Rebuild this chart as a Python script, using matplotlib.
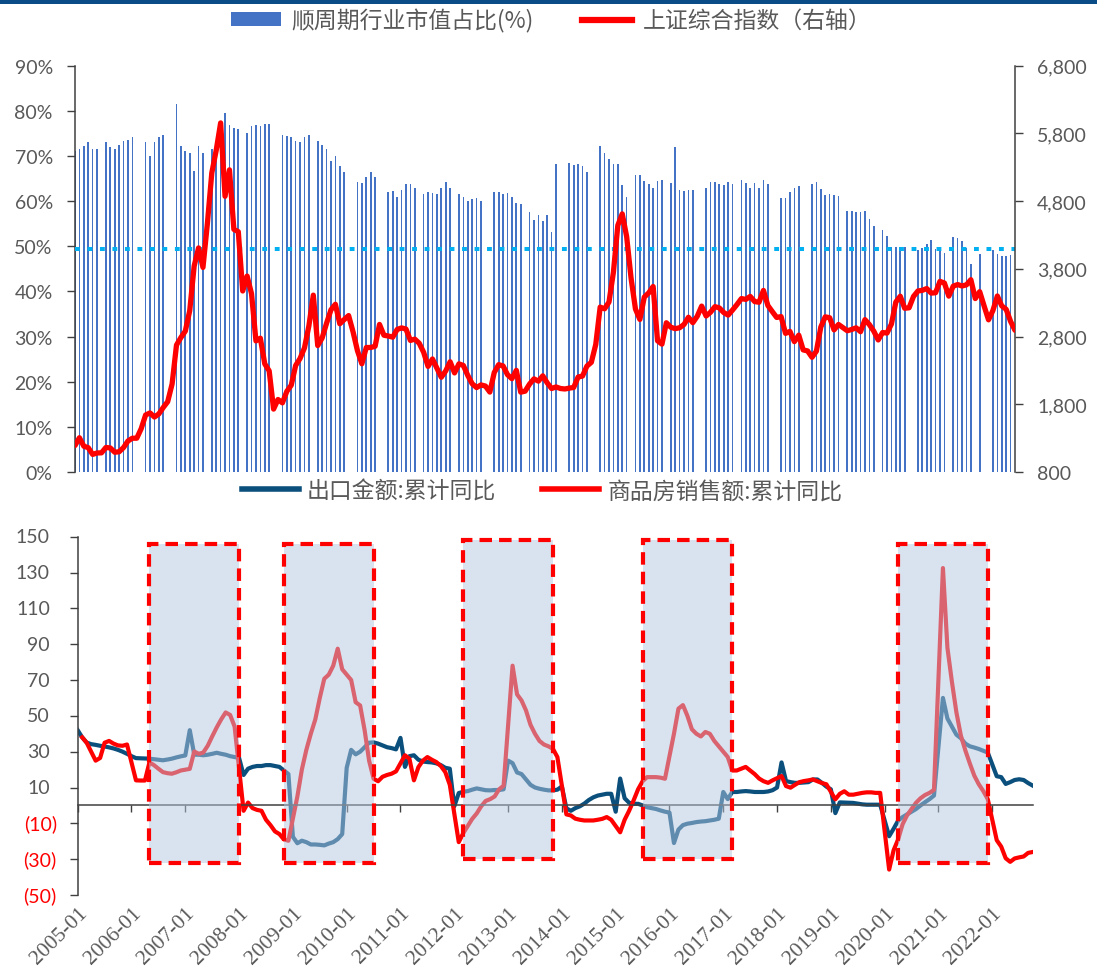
import numpy as np
import pandas as pd
import matplotlib
matplotlib.use("Agg")
import matplotlib.pyplot as plt
from matplotlib.patches import Rectangle, Patch
from matplotlib.lines import Line2D

plt.rcParams['font.family'] = ['Lato', 'Noto Sans CJK SC', 'DejaVu Sans']

# ---------------- data ----------------
months = pd.period_range("2005-01", "2022-10", freq="M").strftime("%Y-%m").tolist()

# 顺周期行业市值占比 (%), None = no observation
cyclical_share = [
    71.2, 71.6, 72.3, 73.1, 71.6, 71.6, None, 73.1, 72.1, 71.6, 72.5, 73.4,
    73.6, 74.1, None, None, 73.1, 70.1, 73.1, 74.1, 74.7, None, None, 81.5,
    72.3, 71.0, 70.6, 66.6, 72.3, 70.6, None, 71.5, 72.5, 74.0, 79.5, 76.8,
    76.3, 75.9, None, 75.2, 76.6, 76.9, 76.6, 77.1, 77.1, None, None, 74.7,
    74.4, 74.1, 73.4, 73.1, 74.1, 74.7, None, 73.4, 72.5, 71.6, 68.8, 69.9,
    67.7, 66.4, None, None, 64.2, 64.0, 65.3, 66.4, 65.3, None, None, 62.1,
    62.3, 61.0, 62.5, 63.7, 63.7, 62.8, None, 61.6, 62.0, 61.7, 61.6, 62.8,
    64.2, 62.8, None, 61.6, 61.0, 60.1, 60.4, 60.6, 60.1, None, None, 62.0,
    62.0, 61.6, 61.8, 61.0, 59.6, 59.4, None, 57.5, 55.8, 57.0, 55.7, 57.0,
    53.2, 68.2, None, None, 68.5, 68.0, 68.2, 67.7, 66.4, None, None, 72.3,
    70.6, 69.3, 68.2, 68.2, 63.5, 61.0, None, 65.8, 65.8, 64.4, 63.7, 62.8,
    64.4, 64.7, None, 64.0, 72.1, 62.5, 62.3, 62.5, 62.5, None, None, 63.0,
    64.2, 64.2, 63.7, 63.5, 64.2, 63.7, None, 64.7, 64.0, 63.0, 64.0, 63.0,
    64.7, 63.7, None, None, 60.8, 60.6, 62.0, 62.8, 63.4, None, None, 63.8,
    64.2, 62.6, 61.4, 61.6, 61.4, 61.2, None, 57.8, 57.8, 57.5, 57.5, 57.8,
    56.1, 54.4, None, 53.6, 52.2, 49.9, 49.9, 49.9, 49.9, None, None, 49.1,
    49.6, 50.4, 51.3, 49.5, 49.5, 48.5, None, 52.0, 51.8, 51.1, 49.6, 46.1,
    None, 48.3, None, None, 49.2, 48.3, 47.9, 47.9, 48.1, None,
]
share_threshold = 49.4

# 上证综合指数 (monthly close)
sse_index = [
    1191, 1306, 1181, 1159, 1060, 1081, 1083, 1162, 1155, 1092, 1099, 1161,
    1258, 1299, 1299, 1440, 1642, 1672, 1612, 1658, 1753, 1838, 2099, 2675,
    2786, 2881, 3184, 3841, 4109, 3821, 4471, 5218, 5552, 5955, 4871, 5262,
    4383, 4349, 3473, 3693, 3433, 2736, 2776, 2397, 2293, 1729, 1871, 1821,
    1991, 2082, 2373, 2477, 2633, 2959, 3412, 2667, 2779, 2996, 3195, 3277,
    2989, 3051, 3110, 2871, 2592, 2398, 2638, 2639, 2656, 2979, 2820, 2808,
    2791, 2905, 2928, 2911, 2743, 2762, 2701, 2568, 2359, 2469, 2333, 2199,
    2292, 2428, 2263, 2397, 2373, 2226, 2103, 2047, 2086, 2069, 1980, 2269,
    2385, 2366, 2237, 2178, 2301, 1979, 1994, 2098, 2175, 2142, 2220, 2116,
    2033, 2056, 2033, 2026, 2039, 2048, 2202, 2217, 2364, 2420, 2683, 3235,
    3210, 3310, 3748, 4442, 4612, 4277, 3664, 3206, 3053, 3383, 3445, 3539,
    2738, 2688, 3004, 2938, 2917, 2930, 2979, 3085, 3005, 3100, 3250, 3104,
    3159, 3242, 3223, 3155, 3117, 3192, 3273, 3361, 3349, 3393, 3317, 3307,
    3481, 3259, 3169, 3082, 3095, 2847, 2876, 2725, 2821, 2603, 2588, 2494,
    2585, 2941, 3091, 3078, 2899, 2979, 2933, 2886, 2905, 2929, 2872, 3050,
    2977, 2880, 2750, 2860, 2852, 2985, 3310, 3396, 3218, 3225, 3392, 3473,
    3483, 3509, 3442, 3447, 3615, 3591, 3397, 3544, 3568, 3547, 3564, 3640,
    3361, 3463, 3252, 3047, 3186, 3399, 3253, 3202, 3024, 2893,
]

# 出口金额:累计同比 (%)
export_yoy = [
    42.0, 38.0, 35.1, 34.2, 33.8, 33.3, 32.9, 32.4, 31.8, 31.0, 30.0, 28.8,
    27.5, 26.4, 26.3, 26.2, 26.1, 25.8, 25.5, 25.2, 25.6, 26.1, 26.8, 27.4,
    27.9, 42.0, 28.3, 28.3, 28.0, 28.3, 28.8, 29.4, 28.8, 28.3, 27.5, 27.0,
    26.5, 17.0, 20.5, 21.5, 22.0, 22.0, 22.5, 22.5, 22.0, 21.5, 19.5, 17.5,
    -17.5, -21.1, -19.7, -20.5, -21.8, -21.8, -22.0, -22.3, -21.3, -20.5, -18.8, -16.0,
    21.0, 31.0, 28.5, 30.0, 32.5, 35.0, 35.2, 34.5, 33.5, 32.5, 32.0, 31.3,
    37.7, 21.5, 27.5, 28.0, 25.5, 24.5, 24.2, 24.0, 23.5, 22.5, 21.0, 20.5,
    -0.5, 6.9, 7.6, 8.0, 8.8, 9.5, 9.0, 8.5, 8.4, 8.6, 8.6, 9.0,
    25.0, 23.6, 18.4, 17.5, 14.5, 11.5, 10.0, 9.3, 8.8, 8.4, 8.4, 8.8,
    10.6, -1.6, -3.0, -1.5, -0.5, 1.0, 3.0, 4.5, 5.5, 6.0, 6.5, 6.5,
    -3.5, 15.0, 4.0, 1.5, 0.9, 0.9, 0.0, -1.0, -1.5, -2.0, -2.8, -3.5,
    -4.0, -21.0, -13.5, -11.0, -10.2, -9.8, -9.3, -9.0, -8.8, -8.4, -8.0, -7.4,
    7.5, 3.5, 7.5, 7.5, 7.8, 8.0, 7.8, 7.5, 7.5, 7.5, 7.8, 8.5,
    10.0, 24.0, 13.6, 13.0, 12.6, 12.6, 12.8, 13.0, 14.5, 14.5, 12.6, 10.5,
    9.0, -4.3, 1.7, 1.6, 1.5, 1.4, 1.0, 0.6, 0.4, 0.4, 0.4, 0.4,
    None, -17.2, -13.0, -8.5, -6.5, -5.0, -3.5, -2.0, 0.0, 1.8, 3.5, 5.5,
    None, 60.0, 48.5, 44.0, 39.5, 37.5, 34.5, 33.0, 32.3, 31.5, 30.5, 29.5,
    None, 16.3, 15.8, 12.0, 13.0, 14.2, 14.6, 14.2, 12.5, 11.1,
]

# 商品房销售额:累计同比 (%)
housing_yoy = [
    None, 38.0, 35.0, 30.0, 25.0, 26.5, 35.0, 36.0, 34.5, 33.5, 33.3, 34.0,
    None, 14.0, 13.9, 13.9, 24.0, 22.5, 20.5, 18.6, 18.0, 17.7, 18.5, 19.5,
    None, 20.4, 30.1, 28.8, 29.5, 33.3, 38.5, 43.5, 48.0, 51.9, 50.5, 44.0,
    None, -3.0, 1.6, -1.5, -2.5, -3.0, -8.0, -11.0, -14.5, -16.0, -19.0, -19.7,
    None, 5.0, 20.0, 31.0, 40.0, 48.0, 60.0, 70.7, 73.0, 78.0, 87.5, 76.0,
    None, 70.0, 57.6, 55.8, 42.0, 25.0, 14.9, 13.5, 16.0, 17.0, 17.7, 19.0,
    None, 28.0, 26.0, 14.0, 21.4, 25.0, 27.0, 25.5, 24.2, 22.0, 18.6, 11.5,
    None, -20.5, -15.5, -11.5, -7.5, -4.5, -0.5, 2.5, 3.5, 5.0, 9.0, 11.0,
    None, 78.0, 62.0, 58.6, 53.0, 45.0, 40.0, 36.0, 34.0, 33.0, 31.6, 27.0,
    None, -5.0, -5.6, -7.4, -8.0, -8.4, -8.4, -8.4, -8.0, -7.5, -6.5, -8.0,
    None, -15.0, -8.0, -3.0, 2.8, 9.0, 13.5, 15.8, 15.8, 15.8, 15.5, 14.9,
    None, 40.0, 54.0, 56.0, 50.0, 42.5, 40.0, 38.5, 41.0, 40.0, 36.0, 33.0,
    None, 27.0, 19.5, 19.5, 20.5, 21.5, 19.5, 17.5, 15.0, 13.5, 12.6, 14.0,
    None, 16.4, 10.8, 9.9, 11.5, 13.0, 13.6, 14.0, 14.5, 13.5, 12.5, 11.8,
    None, 3.4, 6.5, 7.9, 6.0, 6.0, 6.5, 7.0, 7.3, 7.3, 7.0, 7.0,
    None, -35.8, -25.0, -19.0, -10.5, -5.5, -2.0, 1.5, 4.0, 5.8, 7.0, 8.7,
    None, 132.5, 88.0, 69.0, 52.0, 39.0, 30.7, 23.4, 16.6, 11.8, 8.0, 3.5,
    None, -19.4, -23.0, -29.5, -31.5, -29.6, -29.0, -28.5, -26.5, -26.0,
]

# highlighted periods (start month, end month, low, high)
highlight_periods = [
    ("2006-05", "2008-01", -32, 146),
    ("2008-11", "2010-07", -32, 146),
    ("2012-03", "2013-11", -30, 148),
    ("2015-07", "2017-03", -30, 148),
    ("2020-04", "2021-12", -32, 146),
]

# ---------------- styling ----------------
W, H = 1097, 970
GRAY = '#595959'
AXIS = '#404040'
BAR_BLUE = '#4472C4'
NAVY = '#0B4F7C'
RED = '#FF0000'
CJK = ['Noto Sans CJK SC', 'DejaVu Sans']

fig = plt.figure(figsize=(W / 100, H / 100), dpi=100)
fig.patch.set_facecolor('white')

# header band
fig.add_artist(Rectangle((0, 1 - 5 / H), 1, 5 / H, transform=fig.transFigure,
                         color='#0A4C86', lw=0))

x = np.arange(len(months))

# ---------------- top panel ----------------
ax1 = fig.add_axes([75 / W, 1 - 473 / H, 940 / W, 406.3 / H])
share = np.array(cyclical_share, dtype=float)
ok = ~np.isnan(share)
ax1.bar(x[ok], share[ok], width=0.38, color=BAR_BLUE, linewidth=0, zorder=1)
ax1.axhline(share_threshold, color='#00B0F0', lw=2.9, ls=(0, (1.2, 1.9)), zorder=3)
ax1.set_xlim(0, len(months) - 1)
ax1.set_ylim(0, 90)
ax1.set_yticks(range(0, 91, 10))
ax1.set_yticklabels([f"{v}%" for v in range(0, 91, 10)])
for s in ('top', 'right', 'bottom'):
    ax1.spines[s].set_visible(False)
ax1.spines['left'].set_color(AXIS)
ax1.spines['left'].set_linewidth(1.1)
ax1.tick_params(axis='y', direction='out', length=6, width=1, color=AXIS,
                labelsize=14, labelcolor=GRAY, pad=10)
ax1.tick_params(axis='x', bottom=False, labelbottom=False)

ax2 = ax1.twinx()
ax2.plot(x, sse_index, color=RED, lw=3.8, solid_joinstyle='round',
         solid_capstyle='round', zorder=4)
ax2.set_ylim(800, 6800)
ax2.set_yticks(range(800, 6801, 1000))
ax2.set_yticklabels([f"{v:,}" for v in range(800, 6801, 1000)])
for s in ('top', 'left', 'bottom'):
    ax2.spines[s].set_visible(False)
ax2.spines['right'].set_color(AXIS)
ax2.spines['right'].set_linewidth(1.1)
ax2.tick_params(axis='y', direction='out', length=6, width=1, color=AXIS,
                labelsize=14, labelcolor=GRAY, pad=10)

fig.legend(handles=[Patch(facecolor=BAR_BLUE, edgecolor='none'),
                    Line2D([], [], color=RED, lw=4.5)],
           labels=['顺周期行业市值占比(%)', '上证综合指数（右轴）'],
           loc='center', bbox_to_anchor=(551 / W, 1 - 21 / H), ncol=2,
           frameon=False, handlelength=2.2, handleheight=0.55, handletextpad=0.45,
           columnspacing=2.1, prop={'family': CJK, 'size': 16.5}, labelcolor=GRAY)

# ---------------- bottom panel ----------------
ax3 = fig.add_axes([77.7 / W, 1 - 896 / H, 954.9 / W, 358.3 / H])
exp = np.array(export_yoy, dtype=float)
hou = np.array(housing_yoy, dtype=float)
me, mh = ~np.isnan(exp), ~np.isnan(hou)
ax3.plot(x[me], exp[me], color=NAVY, lw=3.0, solid_joinstyle='round', zorder=2)
ax3.plot(x[mh], hou[mh], color=RED, lw=3.0, solid_joinstyle='round', zorder=2)

for start, end, lo, hi in highlight_periods:
    s, e = months.index(start), months.index(end)
    ax3.add_patch(Rectangle((s, lo), e - s, hi - lo, facecolor=(180 / 255, 200 / 255, 225 / 255),
                            alpha=0.5, edgecolor='none', zorder=3))
    ax3.add_patch(Rectangle((s, lo), e - s, hi - lo, fill=False, edgecolor=RED,
                            lw=3.0, ls=(0, (3.0, 1.7)), zorder=4))

ax3.set_xlim(0, len(months) - 1)
ax3.set_ylim(-50, 150)
for s in ('top', 'right'):
    ax3.spines[s].set_visible(False)
ax3.spines['left'].set_color(AXIS)
ax3.spines['left'].set_linewidth(1.1)
ax3.spines['bottom'].set_position(('data', 0))
ax3.spines['bottom'].set_color(AXIS)
ax3.spines['bottom'].set_linewidth(1.1)
ax3.spines['bottom'].set_zorder(2.5)

year_pos = [i for i, m in enumerate(months) if m.endswith('-01')]
year_lab = [months[i] for i in year_pos]
ax3.set_xticks(year_pos)
ax3.tick_params(axis='x', direction='out', length=5, width=1, color=AXIS,
                labelbottom=False)

sec = ax3.secondary_xaxis('bottom')
sec.set_xticks(year_pos, labels=year_lab)
sec.spines['bottom'].set_visible(False)
sec.tick_params(axis='x', length=0, pad=6)
for lbl in sec.get_xticklabels():
    lbl.set_rotation(45)
    lbl.set_ha('right')
    lbl.set_rotation_mode('anchor')
    lbl.set_fontfamily('Liberation Serif')
    lbl.set_fontsize(15.5)
    lbl.set_color(GRAY)

yt = list(range(-50, 151, 20))
ax3.set_yticks(yt)
ax3.tick_params(axis='y', direction='out', length=6, width=1, color=AXIS,
                labelleft=False)
for v in yt:
    neg = v < 0
    ax3.annotate(f"({abs(v)})" if neg else f"{v}", xy=(0, v),
                 xycoords=ax3.get_yaxis_transform(),
                 xytext=(-15 if neg else -20, 0), textcoords='offset points',
                 ha='right', va='center', fontsize=14,
                 color=RED if neg else GRAY)

fig.legend(handles=[Line2D([], [], color=NAVY, lw=4.0),
                    Line2D([], [], color=RED, lw=4.0)],
           labels=['出口金额:累计同比', '商品房销售额:累计同比'],
           loc='center', bbox_to_anchor=(542 / W, 1 - 492 / H), ncol=2,
           frameon=False, handlelength=2.5, handletextpad=0.35,
           columnspacing=2.0, prop={'family': CJK, 'size': 16.5}, labelcolor=GRAY)

fig.savefig('out.png', dpi=100, facecolor='white')
